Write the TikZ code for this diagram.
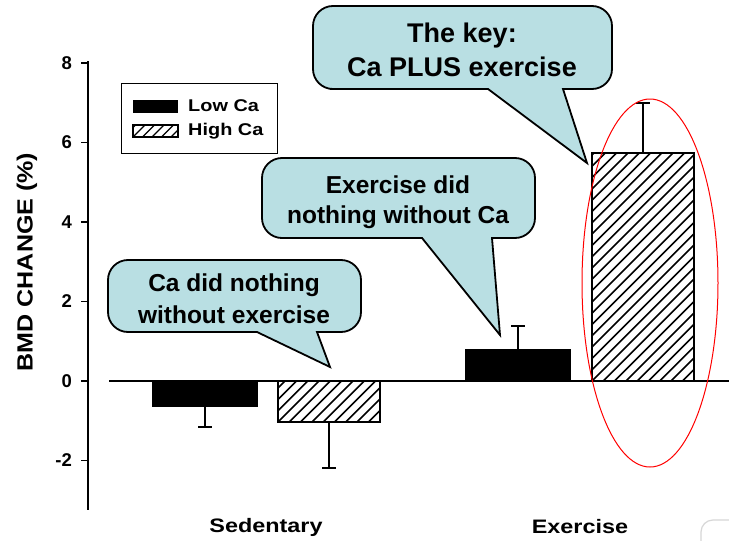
\documentclass[tikz,border=0pt]{standalone}
\usepackage{fontspec}
\setmainfont{Liberation Sans}
\definecolor{bubblefill}{RGB}{185,223,227}
\definecolor{cornergray}{RGB}{215,215,215}
\tikzset{
  axisline/.style={line width=2pt, line cap=rect},
  barbox/.style={draw=black, line width=1.8pt},
  blackbar/.style={barbox, fill=black},
  errline/.style={line width=1.8pt},
  hatchline/.style={line width=1.6pt},
  bubble/.style={draw=black, line width=1.8pt, fill=bubblefill, line join=miter},
  bubbletext/.style={font=\bfseries\fontsize{25}{31}\selectfont, align=center, inner sep=0pt},
  ticklabel/.style={font=\bfseries\fontsize{18.5}{20}\selectfont, anchor=east, inner sep=0pt},
  legendtext/.style={font=\bfseries\fontsize{17}{19}\selectfont, anchor=west, inner sep=0pt, xscale=1.17},
  catlabel/.style={font=\bfseries\fontsize{19.5}{22}\selectfont, inner sep=0pt, xscale=1.2},
}
\newcommand\hatchbox[5]{% x1 y1(top) x2 y2(bottom) spacing
  \begin{scope}
    \clip (#1,#2) rectangle (#3,#4);
    \foreach \k in {-30,...,20}
      \draw[hatchline] ({#1+\k*#5},#4) -- ++(300,-300);
  \end{scope}
  \draw[barbox] (#1,#2) rectangle (#3,#4);
}
\begin{document}
\begin{tikzpicture}[x=1pt,y=-1pt]
\useasboundingbox[fill=white] (0,0) rectangle (729,541);

% y axis
\draw[axisline] (88,62) -- (88,509);
\foreach \v in {8,6,4,2,0,-2} {
  \draw[line width=1.5pt] (81,{381-39.75*\v}) -- (88,{381-39.75*\v});
  \node[ticklabel] at (72,{381-39.75*\v}) {\v};
}
\node[font=\bfseries\fontsize{22}{24}\selectfont, rotate=90, xscale=1.14, inner sep=0pt] (ylab) at (27,262) {BMD CHANGE (\%)};

% legend
\draw[line width=0.9pt] (121,83) rectangle (277,153);
\fill (133,99.5) rectangle (178,112.5);
\begin{scope}
  \clip (133,125) rectangle (178,137);
  \foreach \k in {-4,...,6}
    \draw[line width=1.4pt] ({133+\k*9.5},137) -- ++(20,-20);
\end{scope}
\draw[line width=1.4pt] (133,125) rectangle (178,137);
\node[legendtext] (lowca) at (188,106) {Low Ca};
\node[legendtext] (highca) at (188,131) {High Ca};

% bars
\draw[blackbar] (153,381) rectangle (257,406);
\draw[errline] (205,406) -- (205,427) (198,427) -- (212,427);
\draw[errline] (329,422) -- (329,468) (322,468) -- (336,468);
\hatchbox{278}{381}{380}{422}{11.3}
\draw[errline] (518,350) -- (518,326) (511,326) -- (525,326);
\draw[blackbar] (466,350) rectangle (570,381);
\draw[errline] (643,153) -- (643,103) (636,103) -- (650,103);
\hatchbox{592}{153}{694}{381}{11.3}

% zero line
\draw[axisline, line cap=butt] (109,381) -- (729,381);

% red ellipse
\draw[red, line width=1pt] (650,283) ellipse [x radius=68, y radius=184];

% bubbles
\filldraw[bubble] (563,89) [rounded corners=20] -- (612,89) -- (612,6) -- (313,6) -- (313,89) -- (350,89) [sharp corners] -- (488,89) -- (587,163) -- cycle;
\node[bubbletext, font=\bfseries\fontsize{27}{34}\selectfont] (key) at (462,50) {The key:\\Ca PLUS exercise};

\filldraw[bubble] (492,238) [rounded corners=20] -- (535,238) -- (535,158) -- (262,158) -- (262,238) -- (300,238) [sharp corners] -- (422,238) -- (500,335) -- cycle;
\node[bubbletext, font=\bfseries\fontsize{24.5}{30}\selectfont] (exnot) at (398,202) {Exercise did\\nothing without Ca};

\filldraw[bubble] (317,332) [rounded corners=20] -- (361,332) -- (361,260) -- (108,260) -- (108,332) -- (150,332) [sharp corners] -- (257,332) -- (330,367) -- cycle;
\node[bubbletext, font=\bfseries\fontsize{24.5}{32}\selectfont] (canot) at (234,299) {Ca did nothing\\without exercise};

% category labels
\node[catlabel] (sed) at (266,527) {Sedentary};
\node[catlabel] (exe) at (580,527) {Exercise};

% corner fragment
\draw[cornergray, line width=1.2pt, rounded corners=12] (701,545) -- (701,520) -- (735,520);
\end{tikzpicture}
\end{document}
